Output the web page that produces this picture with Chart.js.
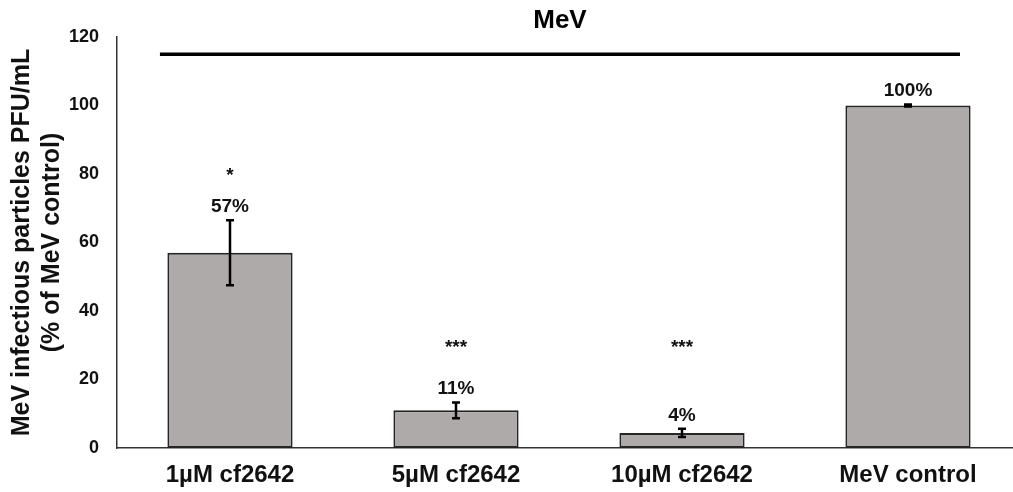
<!DOCTYPE html>
<html>
<head>
<meta charset="utf-8">
<script src="https://cdn.jsdelivr.net/npm/chart.js@4.4.1/dist/chart.umd.min.js"></script>
<style>
  html, body { margin: 0; padding: 0; background: #ffffff; overflow: hidden; }
  #wrap { width: 1021px; height: 492px; position: relative; }
</style>
</head>
<body>
<div id="wrap"><canvas id="c"></canvas></div>
<script>
// ---- data ----
const categories = ['1\u00B5M cf2642', '5\u00B5M cf2642', '10\u00B5M cf2642', 'MeV control'];
const values = [57, 11, 4.4, 100];
const errors = [9.5, 2.3, 1.2, 0.3];
const valueLabels = ['57%', '11%', '4%', '100%'];
const sigMarks = ['*', '***', '***', ''];
const sigLevels = [81, 31, 31, null];
const yTicks = [0, 20, 40, 60, 80, 100, 120];
const chartTitle = 'MeV';
const yTitle = ['MeV infectious particles PFU/mL', '(% of MeV control)'];
const bracketLevel = 115;
const bracketFrom = -0.31;
const bracketTo = 3.23;

const FONT = '"Liberation Sans", Arial, Helvetica, sans-serif';

const overlay = {
  id: 'overlay',
  afterDatasetsDraw(chart) {
    const ctx = chart.ctx;
    const xs = chart.scales.x, ys = chart.scales.y;
    ctx.save();
    // error bars
    ctx.strokeStyle = '#000';
    ctx.lineWidth = 2.5;
    values.forEach((v, i) => {
      const x = xs.getPixelForValue(i);
      const yt = ys.getPixelForValue(v + errors[i]);
      const yb = ys.getPixelForValue(v - errors[i]);
      ctx.beginPath();
      ctx.moveTo(x, yt); ctx.lineTo(x, yb);
      ctx.moveTo(x - 4, yt); ctx.lineTo(x + 4, yt);
      ctx.moveTo(x - 4, yb); ctx.lineTo(x + 4, yb);
      ctx.stroke();
    });
    // value labels
    ctx.fillStyle = '#111';
    ctx.textAlign = 'center';
    ctx.textBaseline = 'alphabetic';
    ctx.font = 'bold 19px ' + FONT;
    values.forEach((v, i) => {
      const x = xs.getPixelForValue(i);
      const yt = ys.getPixelForValue(v + errors[i]);
      ctx.fillText(valueLabels[i], x, yt - 8);
    });
    // significance stars
    sigMarks.forEach((m, i) => {
      if (!m || sigLevels[i] == null) return;
      const x = xs.getPixelForValue(i);
      const y = ys.getPixelForValue(sigLevels[i]) + 0.57 * 19;
      ctx.fillText(m, x, y);
    });
    // bracket line
    const ly = ys.getPixelForValue(bracketLevel);
    const lx1 = xs.getPixelForValue(bracketFrom);
    const lx2 = xs.getPixelForValue(bracketTo);
    ctx.strokeStyle = '#000';
    ctx.lineWidth = 3.5;
    ctx.beginPath();
    ctx.moveTo(lx1, ly); ctx.lineTo(lx2, ly);
    ctx.stroke();
    // title
    ctx.font = 'bold 26px ' + FONT;
    ctx.textBaseline = 'middle';
    ctx.fillStyle = '#000';
    ctx.fillText(chartTitle, (lx1 + lx2) / 2, ly - 33);
    ctx.restore();
  }
};

new Chart(document.getElementById('c'), {
  type: 'bar',
  data: {
    labels: categories,
    datasets: [{
      data: values,
      backgroundColor: '#AEAAAA',
      borderColor: '#262626',
      borderWidth: 2,
      borderSkipped: false,
      categoryPercentage: 1.0,
      barPercentage: 0.554
    }]
  },
  options: {
    responsive: true,
    maintainAspectRatio: false,
    animation: false,
    layout: { padding: { top: 37, bottom: 0, left: 0, right: 0 } },
    plugins: {
      legend: { display: false },
      tooltip: { enabled: false },
      title: { display: false }
    },
    scales: {
      x: {
        afterFit(scale) { scale.height = 44; },
        grid: { display: false, drawTicks: false },
        border: { display: true, color: '#333', width: 1.5 },
        ticks: {
          padding: 13,
          color: '#111',
          font: { family: FONT, size: 24, weight: 'bold' },
          maxRotation: 0, autoSkip: false
        }
      },
      y: {
        min: 0, max: 120,
        afterFit(scale) { scale.width = 117; },
        afterBuildTicks(scale) { scale.ticks = yTicks.map(v => ({ value: v })); },
        grid: { display: false, drawTicks: false },
        border: { display: true, color: '#333', width: 1.5 },
        ticks: {
          padding: 18,
          color: '#111',
          font: { family: FONT, size: 18, weight: 'bold' }
        },
        title: {
          display: true,
          text: yTitle,
          color: '#111',
          padding: { top: 7, bottom: 0 },
          font: { family: FONT, size: 25, weight: 'bold' }
        }
      }
    }
  },
  plugins: [overlay]
});
</script>
</body>
</html>
